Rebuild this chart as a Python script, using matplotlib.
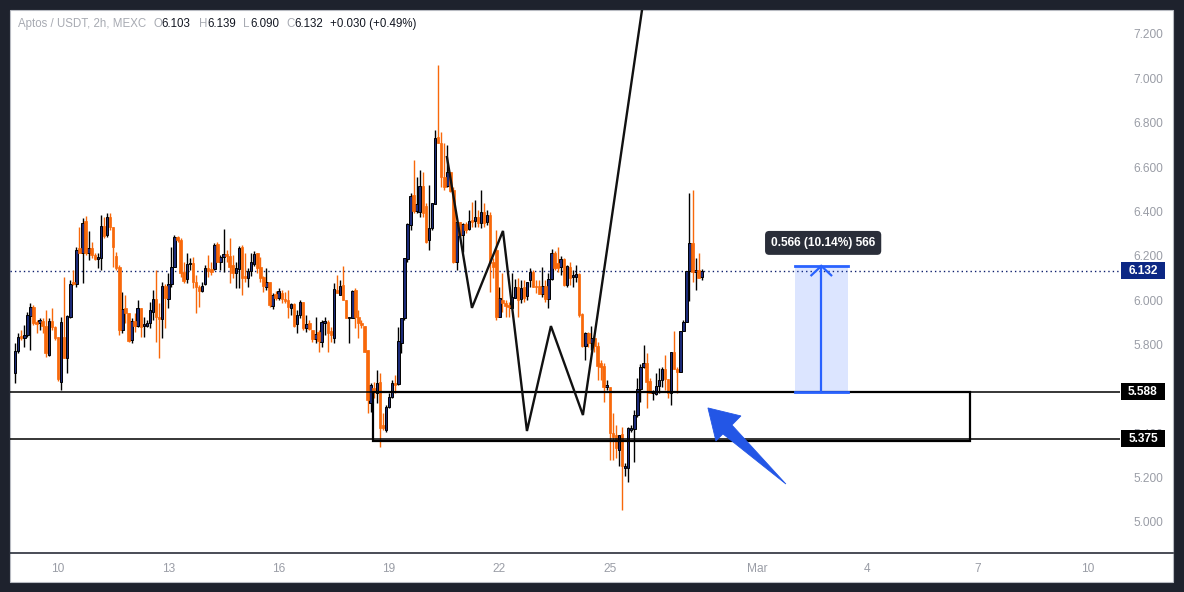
import numpy as np
import pandas as pd
import matplotlib
matplotlib.use("Agg")
import matplotlib.pyplot as plt
import matplotlib.dates as mdates
from matplotlib.patches import Rectangle, Polygon

# ---------------- data (APT/USDT 2h candles) ----------------
opens = [
    5.672,5.771,5.839,5.830,5.843,5.929,5.969,5.902,5.897,5.906, 5.884,5.753,5.906,5.879,5.834,5.632,5.834,5.740,5.924,6.082,
    6.073,6.235,6.213,6.357,6.213,6.235,6.204,6.186,6.190,6.334, 6.294,6.375,6.330,6.199,6.150,5.866,5.965,5.942,5.821,5.906,
    5.884,5.965,5.884,5.884,5.897,5.947,6.006,5.924,5.915,6.064, 6.006,6.073,6.150,6.285,6.271,6.127,6.096,6.163,6.168,6.082,
    6.060,6.042,6.073,6.145,6.141,6.141,6.253,6.172,6.195,6.208, 6.199,6.159,6.123,6.141,6.240,6.109,6.100,6.132,6.163,
    6.213,6.150,6.105,6.060,6.082,5.974,6.028,6.010,6.033,6.006, 6.001,5.965,5.983,5.893,5.933,5.992,5.875,5.897,5.866,5.826,
    5.857,5.812,5.897,5.902,5.861,5.830,6.046,6.024,6.069,6.001, 5.920,5.920,6.046,5.924,5.897,5.884,5.776,5.537,5.605,
    5.582,5.632,5.438,5.416,5.519,5.564,5.627,5.623,5.807,5.920, 6.186,6.339,6.474,6.402,6.397,6.514,6.424,6.271,6.325,6.433,
    6.735,6.708,6.555,6.514,6.577,6.496,6.172,6.352,6.294,6.343, 6.321,6.361,6.357,6.375,6.348,6.397,6.352,6.384,6.172,
    6.226,5.924,6.001,5.987,5.978,5.965,6.010,6.060,6.006,6.060, 6.019,6.091,6.127,6.064,6.064,6.028,6.064,6.006,6.096,6.213,
    6.168,6.150,6.186,6.069,6.150,6.105,6.105,6.118,5.938,5.794, 5.852,5.807,5.830,
    5.794,5.717,5.704,5.609,5.609,5.402,5.393,5.326,5.398,5.241, 5.245,5.416,5.420,5.483,5.600,5.699,5.717,5.636,5.582,5.578,
    5.614,5.641,5.690,5.645,5.582,5.767,5.690,5.677,5.861,5.902, 6.132,6.258,6.127,6.136,6.103,
]
highs = [
    5.807,5.852,5.866,5.888,5.947,5.987,5.978,5.911,5.920,5.920, 5.956,5.920,5.965,5.884,5.834,5.924,6.105,5.933,6.091,6.136,
    6.240,6.330,6.370,6.379,6.312,6.262,6.213,6.213,6.384,6.375, 6.393,6.393,6.330,6.217,6.159,6.037,6.024,5.942,5.920,5.942,
    6.001,5.965,5.924,5.911,5.992,6.046,6.136,5.987,6.082,6.073, 6.123,6.240,6.294,6.289,6.280,6.172,6.213,6.190,6.195,6.114,
    6.069,6.082,6.159,6.204,6.172,6.258,6.262,6.204,6.321,6.226, 6.280,6.204,6.172,6.244,6.249,6.213,6.145,6.213,6.222,
    6.213,6.195,6.109,6.145,6.082,6.033,6.042,6.055,6.046,6.037, 6.046,5.987,5.987,5.956,6.001,5.992,5.933,5.911,5.866,5.924,
    5.866,5.911,5.924,5.911,5.879,6.078,6.114,6.091,6.154,6.001, 5.924,6.046,6.055,5.956,5.911,5.884,5.776,5.627,5.632,
    5.686,5.672,5.492,5.528,5.582,5.641,5.663,5.880,5.920,6.190, 6.348,6.483,6.631,6.555,6.586,6.577,6.438,6.519,6.438,6.766,
    7.059,6.757,6.708,6.699,6.577,6.510,6.352,6.352,6.348,6.352, 6.406,6.442,6.451,6.406,6.496,6.438,6.406,6.397,6.190,
    6.316,6.060,6.123,6.001,5.992,6.123,6.096,6.100,6.091,6.091, 6.082,6.145,6.136,6.091,6.091,6.150,6.091,6.123,6.231,6.222,
    6.240,6.199,6.190,6.159,6.172,6.136,6.159,6.123,5.942,5.857, 5.857,5.884,5.843,
    5.812,5.731,5.717,5.641,5.609,5.492,5.438,5.393,5.429,5.267, 5.429,5.438,5.506,5.650,5.713,5.798,5.762,5.650,5.596,5.672,
    5.695,5.699,5.753,5.645,5.767,5.861,5.699,5.861,5.911,6.132, 6.483,6.496,6.190,6.213,6.139,
]
lows = [
    5.627,5.762,5.821,5.789,5.834,5.776,5.888,5.852,5.866,5.852, 5.744,5.749,5.866,5.821,5.637,5.596,5.740,5.672,5.920,6.068,
    6.060,6.213,6.078,6.204,6.181,6.190,6.181,6.145,6.136,6.280, 6.285,6.316,6.150,6.136,5.843,5.852,5.897,5.812,5.807,5.857,
    5.879,5.834,5.834,5.879,5.875,5.911,5.812,5.740,5.830,5.875, 5.965,6.060,6.150,6.262,6.105,6.078,6.078,6.136,6.055,5.942,
    5.969,6.037,6.069,6.105,6.114,6.136,6.172,6.136,6.127,6.172, 6.078,6.100,6.055,6.055,6.024,6.082,6.060,6.109,6.154,
    6.123,6.082,6.037,6.046,5.969,5.960,6.001,6.001,5.987,5.987, 5.920,5.933,5.879,5.852,5.920,5.866,5.857,5.866,5.812,5.807,
    5.767,5.789,5.843,5.767,5.812,5.807,6.033,6.024,6.001,5.920, 5.807,5.920,5.875,5.830,5.875,5.767,5.492,5.497,5.560,
    5.537,5.340,5.416,5.407,5.515,5.560,5.582,5.618,5.762,5.911, 6.172,6.316,6.393,6.393,6.375,6.375,6.258,6.226,6.316,6.433,
    6.708,6.510,6.496,6.510,6.487,6.168,6.136,6.285,6.217,6.303, 6.316,6.330,6.330,6.330,6.325,6.330,6.339,6.037,6.100,
    5.911,5.924,5.947,5.924,5.924,5.965,6.010,5.924,5.987,5.992, 6.001,6.060,6.060,6.033,6.028,6.015,5.992,5.965,6.091,6.136,
    6.127,6.114,6.064,6.060,6.069,6.060,6.082,5.924,5.789,5.731, 5.789,5.776,5.767,
    5.641,5.641,5.542,5.596,5.281,5.281,5.290,5.250,5.056,5.205, 5.178,5.407,5.272,5.474,5.542,5.695,5.515,5.582,5.551,5.573,
    5.582,5.609,5.596,5.560,5.528,5.690,5.582,5.677,5.861,5.902, 5.996,6.082,6.046,6.100,6.090,
]
closes = [
    5.771,5.834,5.830,5.843,5.933,5.969,5.897,5.893,5.911,5.884, 5.762,5.906,5.879,5.830,5.645,5.902,5.740,5.929,6.073,6.073,
    6.226,6.213,6.347,6.213,6.235,6.204,6.186,6.195,6.334,6.289, 6.375,6.330,6.240,6.145,5.866,5.960,5.942,5.816,5.906,5.884,
    5.965,5.879,5.893,5.897,5.956,6.006,5.924,5.915,6.064,6.010, 6.073,6.150,6.285,6.271,6.123,6.087,6.163,6.168,6.082,6.060,
    6.042,6.064,6.145,6.132,6.127,6.249,6.172,6.195,6.208,6.199, 6.150,6.123,6.145,6.235,6.100,6.100,6.132,6.172,6.208,
    6.145,6.100,6.064,6.082,5.978,6.024,6.010,6.042,6.006,5.996, 5.969,5.983,5.884,5.933,5.992,5.875,5.893,5.870,5.826,5.848,
    5.816,5.902,5.906,5.852,5.843,6.051,6.033,6.064,6.001,5.920, 5.924,6.042,5.924,5.897,5.888,5.767,5.551,5.618,5.587,
    5.627,5.425,5.425,5.519,5.564,5.627,5.618,5.816,5.920,6.190, 6.343,6.469,6.402,6.433,6.514,6.393,6.262,6.325,6.438,6.730,
    6.708,6.555,6.510,6.577,6.492,6.172,6.352,6.294,6.343,6.316, 6.357,6.352,6.375,6.348,6.397,6.348,6.384,6.168,6.150,
    5.924,6.010,5.987,5.974,5.969,6.015,6.060,6.001,6.055,6.010, 6.082,6.127,6.060,6.060,6.028,6.064,6.006,6.096,6.213,6.145,
    6.145,6.186,6.069,6.154,6.100,6.114,6.118,5.933,5.794,5.852, 5.807,5.830,5.794,
    5.704,5.699,5.609,5.618,5.402,5.384,5.335,5.393,5.250,5.250, 5.425,5.425,5.483,5.600,5.699,5.717,5.632,5.582,5.587,5.614,
    5.641,5.690,5.645,5.582,5.767,5.690,5.677,5.861,5.902,6.132, 6.258,6.127,6.136,6.100,6.132,
]
first_bar = "2025-02-08 20:00"
bar_freq = "2h"

# 5.600 is fully covered by the 5.588 tag in the reference, so it is not listed
price_ticks = [5.0, 5.2, 5.4, 5.8, 6.0, 6.2, 6.4, 6.6, 6.8, 7.0, 7.2]
time_tick_days = [0, 3, 6, 9, 12, 15, 19, 22, 25, 28]          # days after 2025-02-10
time_tick_labels = ["10", "13", "16", "19", "22", "25", "Mar", "4", "7", "10"]

last_price = 6.132
zone_top = 5.588
zone_bottom = 5.375
box_bottom = 5.363
box_days = [8.56, 24.79]

zigzag_days = [10.573, 11.253, 12.096, 12.748, 13.400, 14.270, 15.955]
zigzag_prices = [6.645, 5.965, 6.312, 5.410, 5.883, 5.482, 7.398]

measure_days = [20.03, 21.47]
measure_prices = [5.588, 6.154]
measure_text = "0.566 (10.14%) 566"

arrow_days = [17.668, 18.565, 18.320, 19.788, 18.075, 17.885]
arrow_prices = [5.514, 5.478, 5.437, 5.171, 5.397, 5.365]

header = [("Aptos / USDT, 2h, MEXC", 18, "grey"), ("O", 153, "grey"), ("6.103", 161, "dark"),
          ("H", 199, "grey"), ("6.139", 207, "dark"), ("L", 243, "grey"), ("6.090", 250, "dark"),
          ("C", 286, "grey"), ("6.132", 294, "dark"), ("+0.030 (+0.49%)", 330, "dark")]

# ---------------- style ----------------
W, H = 1184, 592
UP_FILL = "#1b2a78"
UP_EDGE = "#000000"
DN = "#f8680a"
FONT = ["Liberation Sans", "DejaVu Sans"]
plt.rcParams["font.family"] = FONT

fig = plt.figure(figsize=(W / 100, H / 100), dpi=100)
fig.patch.set_facecolor("#1e222d")
fig.add_artist(Rectangle((10 / W, 10 / H), 1163 / W, 572 / H, transform=fig.transFigure,
                         facecolor="white", edgecolor="#b8bbc2", lw=0.8, zorder=0))

ax = fig.add_axes([10 / W, 39 / H, 1110 / W, 543 / H])
ax.set_facecolor("none")
for s in ax.spines.values():
    s.set_visible(False)

base = mdates.date2num(pd.Timestamp("2025-02-10"))
t = mdates.date2num(pd.date_range(first_bar, periods=len(closes), freq=bar_freq))
o = np.array(opens); h = np.array(highs); l = np.array(lows); c = np.array(closes)
up = c >= o

ax.set_xlim(base - 1.305, base + 28.87)
ax.set_ylim(4.860, 7.308)

bw = 0.068
body_lo = np.minimum(o, c)
body_h = np.maximum(np.abs(c - o), 0.005)
ax.vlines(t[up], l[up], h[up], color=UP_EDGE, lw=1.0, zorder=2)
ax.vlines(t[~up], l[~up], h[~up], color=DN, lw=1.0, zorder=2)
ax.bar(t[up], body_h[up], bottom=body_lo[up], width=bw, color=UP_FILL, edgecolor=UP_EDGE, lw=0.7, zorder=3)
ax.bar(t[~up], body_h[~up], bottom=body_lo[~up], width=bw, color=DN, edgecolor=DN, lw=0.5, zorder=3)

# last price dotted line
ax.axhline(last_price, color="#0d1f6e", lw=1.0, ls=(0, (1, 2.2)), zorder=1)

# zone lines and box
ax.axhline(zone_top, color="black", lw=1.1, zorder=4)
ax.axhline(zone_bottom, color="black", lw=1.1, zorder=4)
ax.add_patch(Rectangle((base + box_days[0], box_bottom), box_days[1] - box_days[0], zone_top - box_bottom,
                       fill=False, edgecolor="black", lw=1.6, zorder=4))

# zigzag pattern
ax.plot(base + np.array(zigzag_days), zigzag_prices, color="#111111", lw=1.7, zorder=5,
        solid_joinstyle="miter")

# measure tool
md0, md1 = base + measure_days[0], base + measure_days[1]
ax.add_patch(Rectangle((md0, measure_prices[0]), md1 - md0, measure_prices[1] - measure_prices[0],
                       facecolor="#2962ff", alpha=0.16, lw=0, zorder=5))
ax.plot([md0, md1], [measure_prices[1]] * 2, color="#2962ff", lw=2.0, zorder=6)
ax.plot([md0, md1], [measure_prices[0]] * 2, color="#2962ff", lw=2.0, zorder=6)
mid = (md0 + md1) / 2
ax.plot([mid, mid], measure_prices, color="#2962ff", lw=1.6, zorder=6)
ax.plot([mid - 0.27, mid, mid + 0.27], [measure_prices[1] - 0.042, measure_prices[1], measure_prices[1] - 0.042],
        color="#2962ff", lw=1.6, zorder=6, solid_joinstyle="miter")
ax.text(mid + 0.05, 6.258, measure_text, ha="center", va="center", color="white", fontsize=8.6,
        fontweight="bold", zorder=7,
        bbox=dict(boxstyle="round,pad=0.5,rounding_size=0.35", fc="#2a2e39", ec="none"))

# blue arrow marker
ax.add_patch(Polygon(np.column_stack([base + np.array(arrow_days), arrow_prices]), closed=True,
                     facecolor="#2356e6", edgecolor="#2356e6", lw=0.6, zorder=6))

# axes ticks
ax.set_xticks(base + np.array(time_tick_days))
ax.set_xticklabels(time_tick_labels)
ax.set_yticks(price_ticks)
ax.set_yticklabels([f"{v:.3f}" for v in price_ticks])
ax.tick_params(axis="x", length=0, pad=7.5, labelsize=8.6, labelcolor="#9a9da6")
ax.tick_params(axis="y", length=0, pad=9.5, labelsize=8.6, labelcolor="#9a9da6",
               left=False, labelleft=False, right=False, labelright=True)

# bottom axis line across the whole panel
fig.add_artist(plt.Line2D([10 / W, 1173 / W], [39 / H, 39 / H], transform=fig.transFigure,
                          color="#2a2e39", lw=1.2, zorder=3))

# price labels on the right scale
def price_tag(value, fc):
    y = ax.transData.transform((0, value))[1]
    yf = fig.transFigure.inverted().transform((0, y))[1]
    fig.add_artist(Rectangle((1121 / W, yf - 8.5 / H), 44 / W, 17 / H, transform=fig.transFigure,
                             facecolor=fc, edgecolor="none", zorder=9))
    fig.text(1143 / W, yf, f"{value:.3f}", ha="center", va="center", color="white", fontsize=8.6,
             fontweight="bold", zorder=10)

price_tag(last_price, "#0c2784")
price_tag(zone_top, "#000000")
price_tag(zone_bottom, "#000000")

# header legend
for txt, xpx, kind in header:
    fig.text(xpx / W, 1 - 24 / H, txt, ha="left", va="center", fontsize=8.3,
             color="#a7aab2" if kind == "grey" else "#131722", zorder=10)

fig.savefig("out.png", dpi=100, facecolor=fig.get_facecolor())
